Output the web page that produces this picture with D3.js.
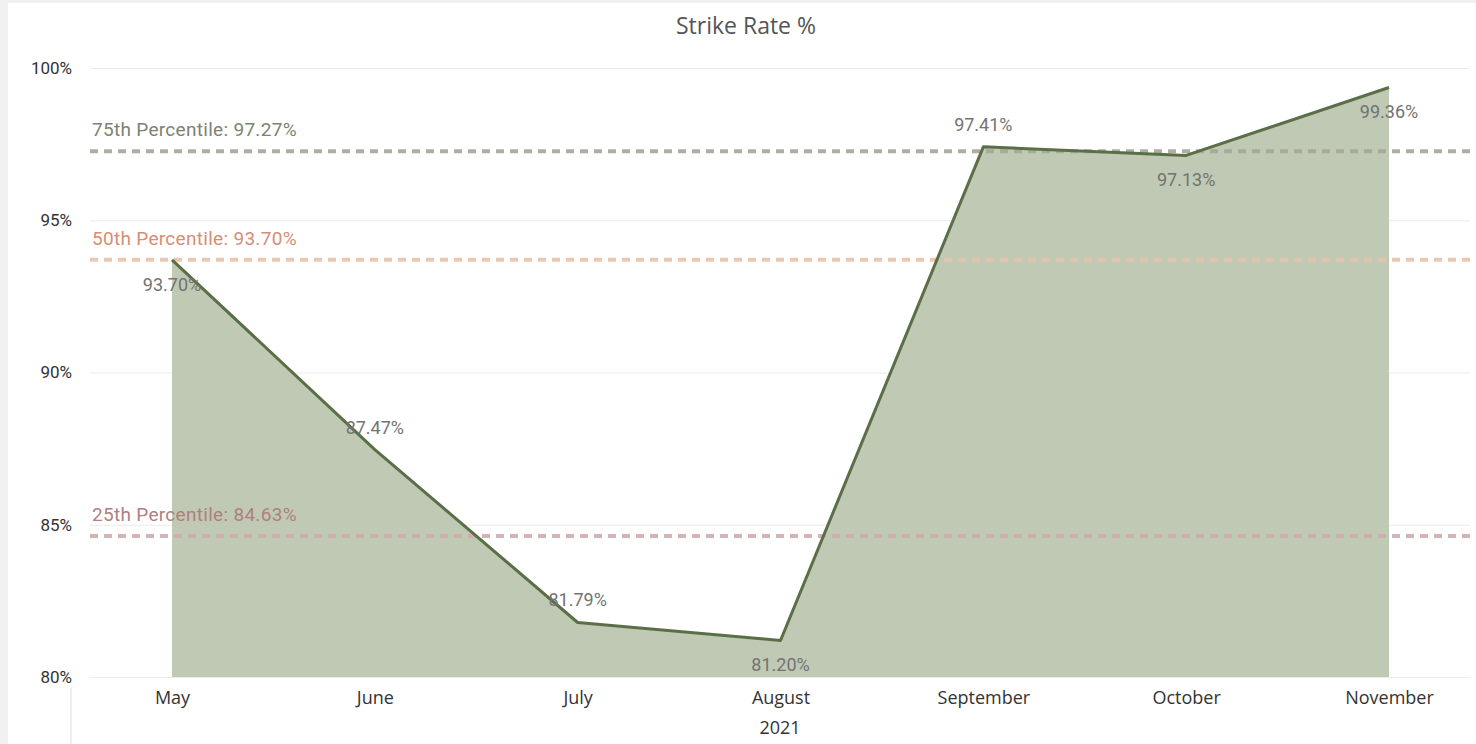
<!DOCTYPE html>
<html lang="en">
<head>
<meta charset="UTF-8">
<title>Strike Rate %</title>
<script src="https://cdn.jsdelivr.net/npm/d3@7"></script>
<style>
  body { margin: 0; background: #f0f0f0; overflow: hidden; }
</style>
</head>
<body>
<script>
  const months = ["May", "June", "July", "August", "September", "October", "November"];
  const rates = [93.70, 87.47, 81.79, 81.20, 97.41, 97.13, 99.36];
  const labelSide = ["below", "above", "above", "below", "above", "below", "below"];
  const yTicks = [80, 85, 90, 95, 100];
  const percentileNames = ["75th Percentile", "50th Percentile", "25th Percentile"];
  const percentileValues = [97.27, 93.70, 84.63];
  const percentileLine = ["#a4a89a", "#eac3aa", "#cfaeae"];
  const percentileText = ["#7d8272", "#d68e74", "#b07f7f"];

  const W = 1476, H = 744;
  const svg = d3.select("body").append("svg").attr("width", W).attr("height", H);

  // white panel
  svg.append("rect").attr("x", 8).attr("y", 3).attr("width", W - 8).attr("height", H - 3).attr("fill", "#fff");

  const x = d3.scalePoint().domain(months).range([172, 1389]);
  const y = d3.scaleLinear().domain([80, 100]).range([677, 68]);

  const font = "'Open Sans', 'Segoe UI', sans-serif";
  const dinFont = "'Roboto', 'DejaVu Sans', sans-serif";

  svg.append("text").attr("x", 746).attr("y", 34).attr("text-anchor", "middle")
    .attr("font-family", font).attr("font-size", 23).attr("fill", "#555").text("Strike Rate %");

  // gridlines + y labels
  const yAxis = svg.append("g").attr("transform", "translate(90,0)")
    .call(d3.axisLeft(y).tickValues(yTicks).tickSize(-1380).tickFormat(d => d + "%"));
  yAxis.select(".domain").remove();
  yAxis.selectAll(".tick line").attr("stroke", "#ebebeb");
  yAxis.selectAll(".tick text").attr("x", -18).attr("font-family", dinFont).attr("font-size", 17).attr("fill", "#333");

  // area
  svg.append("path").datum(rates)
    .attr("d", d3.area().x((d, i) => x(months[i])).y0(y(80)).y1(d => y(d)))
    .attr("fill", "#bfc9b4");

  // percentile lines
  percentileValues.forEach((v, i) => {
    svg.append("line").attr("x1", 90).attr("x2", W).attr("y1", y(v)).attr("y2", y(v))
      .attr("stroke", percentileLine[i]).attr("stroke-width", 4).attr("stroke-dasharray", "8,6")
      .attr("opacity", 0.9);
    svg.append("text").attr("x", 92).attr("y", y(v) - 15)
      .attr("font-family", dinFont).attr("font-size", 19).attr("letter-spacing", 0.3)
      .attr("fill", percentileText[i])
      .text(percentileNames[i] + ": " + v.toFixed(2) + "%");
  });

  svg.append("path").datum(rates)
    .attr("d", d3.line().x((d, i) => x(months[i])).y(d => y(d)))
    .attr("fill", "none").attr("stroke", "#5a6f46").attr("stroke-width", 3).attr("stroke-linejoin", "round");

  // data labels
  svg.append("g").selectAll("text").data(rates).join("text")
    .attr("x", (d, i) => x(months[i]))
    .attr("y", (d, i) => labelSide[i] === "above" ? y(d) - 16 : y(d) + 31)
    .attr("text-anchor", "middle")
    .attr("font-family", dinFont).attr("font-size", 18).attr("fill", "#737373")
    .text(d => d.toFixed(2) + "%");

  // x axis
  const xAxis = svg.append("g").attr("transform", "translate(0,677)")
    .call(d3.axisBottom(x).tickSize(0).tickPadding(14));
  xAxis.select(".domain").remove();
  xAxis.selectAll(".tick text").attr("font-family", font).attr("font-size", 18).attr("fill", "#333");

  svg.append("text").attr("x", 780).attr("y", 734).attr("text-anchor", "middle")
    .attr("font-family", font).attr("font-size", 18).attr("fill", "#333").text("2021");

  svg.append("line").attr("x1", 71).attr("x2", 71).attr("y1", 688).attr("y2", H)
    .attr("stroke", "#dcdcdc").attr("stroke-width", 1);
</script>
</body>
</html>
